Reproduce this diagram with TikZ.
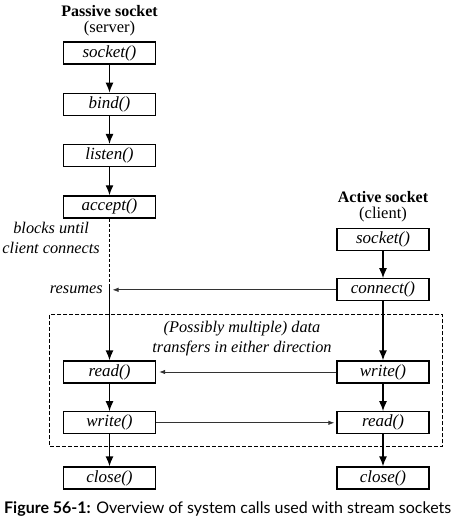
\documentclass[tikz,border=0pt]{standalone}
\usepackage{fontspec}
\setmainfont{Liberation Serif}
\newfontfamily\capfont{Lato}
\usetikzlibrary{arrows.meta,positioning,fit,backgrounds}

\begin{document}
\begin{tikzpicture}[
  x=1pt, y=1pt,
  % Block styles
  callbox/.style={
    draw, line width=1.3pt, fill=white,
    minimum width=92pt, minimum height=22pt, inner sep=0pt,
    font=\fontsize{17}{20}\selectfont\itshape
  },
  head/.style={font=\fontsize{16}{19}\selectfont\bfseries, inner sep=0pt},
  role/.style={font=\fontsize{16.5}{19}\selectfont, inner sep=0pt},
  note/.style={font=\fontsize{16.3}{20}\selectfont\itshape, align=center, inner sep=0pt},
  flow/.style={-{Latex[length=10pt,width=8pt]}, line width=1.3pt},
  msg/.style={-{Latex[length=6pt,width=4.5pt]}, line width=0.8pt, draw=black!80},
  xferbox/.style={draw, dashed, dash pattern=on 4pt off 2pt, line width=1.1pt}
]
\useasboundingbox (0,0) rectangle (474,-530);

% ── Passive socket (server) ─────────────────────────────────────────────────
\node[callbox] (sockS) at (109.5,-53) {socket()};
\node[callbox, below=28pt of sockS]  (bind)   {bind()};
\node[callbox, below=28pt of bind]   (listen) {listen()};
\node[callbox, below=28pt of listen] (accept) {accept()};

\node[role] (server) at (109.5,-29) {(server)};
\node[head] (passive) at (109.5,-11) {Passive socket};

\node[note, anchor=east] (blocks) at (100,-238) {blocks until\\client connects};

% ── Active socket (client) ──────────────────────────────────────────────────
\node[callbox] (sockC) at (383,-239.5) {socket()};
\node[callbox, below=27pt of sockC] (connect) {connect()};

\node[role] (client) at (383,-215) {(client)};
\node[head] (active) at (383,-197) {Active socket};

% ── Data transfer ───────────────────────────────────────────────────────────
\node[callbox] (readS)  at (109.5,-372) {read()};
\node[callbox, below=27.5pt of readS] (writeS) {write()};
\node[callbox] (writeC) at (383,-372) {write()};
\node[callbox, below=27.5pt of writeC] (readC) {read()};

\node[note, inner ysep=-5pt] (xfer) at (242,-339) {(Possibly multiple) data\\transfers in either direction};

% ── Close ───────────────────────────────────────────────────────────────────
\node[callbox] (closeS) at (109.5,-478) {close()};
\node[callbox] (closeC) at (383,-478) {close()};

\node[note, anchor=east] (resumes) at (103,-290) {resumes};

% ── Arrows: server chain ────────────────────────────────────────────────────
\draw[flow] (sockS) -- (bind);
\draw[flow] (bind) -- (listen);
\draw[flow] (listen) -- (accept);

\coordinate (wake) at (accept.south |- connect.west);
\coordinate (hit) at ([xshift=3pt]wake);
\draw[line width=1.1pt, dash pattern=on 3pt off 2pt] (accept.south) -- ([yshift=6pt]wake);
\draw[flow] ([yshift=6pt]wake) -- (readS.north);
\draw[flow] (readS) -- (writeS);
\draw[flow] (writeS.south) -- (closeS.north);

% ── Arrows: client chain ────────────────────────────────────────────────────
\draw[flow] (sockC) -- (connect);
\draw[flow] (connect) -- (writeC);
\draw[flow] (writeC) -- (readC);
\draw[flow] (readC.south) -- (closeC.north);

% ── Messages ────────────────────────────────────────────────────────────────
\draw[msg] (connect.west) -- (hit);
\draw[msg, shorten >=3pt] (writeC.west) -- (readS.east);
\draw[msg, shorten >=2pt] (writeS.east) -- (readC.west);

% ── Background box ──────────────────────────────────────────────────────────
\begin{scope}[on background layer]
  \node[xferbox, fit=(readS)(readC)(xfer), inner xsep=13pt, inner ysep=12pt] (xferfit) {};
\end{scope}

% ── Caption ─────────────────────────────────────────────────────────────────
\node[anchor=west, inner sep=0pt, font=\capfont\fontsize{16}{19}\selectfont] (caption) at (4,-509)
  {\textbf{Figure 56-1:} Overview of system calls used with stream sockets};

\end{tikzpicture}
\end{document}
